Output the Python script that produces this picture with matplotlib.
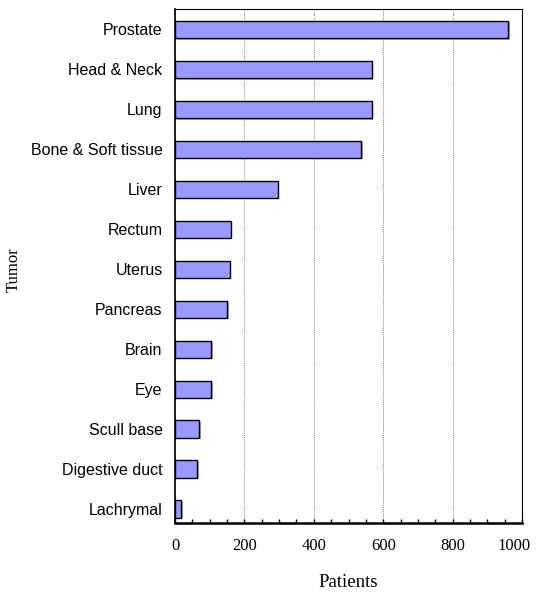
import matplotlib
matplotlib.use("Agg")
import matplotlib.pyplot as plt
import matplotlib.patheffects as pe
import matplotlib.transforms as mtransforms
from matplotlib.ticker import MultipleLocator

tumors = ["Prostate", "Head & Neck", "Lung", "Bone & Soft tissue", "Liver",
          "Rectum", "Uterus", "Pancreas", "Brain", "Eye", "Scull base",
          "Digestive duct", "Lachrymal"]
patients = [960, 567, 567, 536, 296, 160, 157, 151, 105, 105, 70, 64, 18]
x_ticks = [0, 200, 400, 600, 800, 1000]

fig = plt.figure(figsize=(5.37, 5.93), dpi=100)
ax = fig.add_axes([0.326, 0.118, 0.646, 0.867])

ypos = list(range(len(tumors)))
ax.barh(ypos, patients, height=0.43, color="#9999FF", edgecolor="black",
        linewidth=1.0, zorder=3,
        path_effects=[pe.SimplePatchShadow(offset=(1.2, -1.2), shadow_rgbFace="#999999", alpha=0.8),
                      pe.Normal()])

ax.set_ylim(12.35, -0.51)
ax.set_xlim(0, 1000)
ax.set_yticks(ypos)
ax.set_yticklabels(tumors, fontfamily="Liberation Sans", fontsize=11.5)
ax.tick_params(axis="y", length=0, pad=9)

ax.set_xticks(x_ticks)
ax.set_xticklabels([str(v) for v in x_ticks], fontfamily="Liberation Serif", fontsize=12)
ax.xaxis.set_minor_locator(MultipleLocator(50))
ax.tick_params(axis="x", which="both", direction="in", length=3, width=1, pad=11)

# last label sits a bit inward so it stays inside the figure
last = ax.get_xticklabels()[-1]
last.set_transform(last.get_transform() +
                   mtransforms.ScaledTranslation(-6 / 72, 0, fig.dpi_scale_trans))

ax.grid(axis="x", color="#888888", linestyle=(0, (1, 1)), linewidth=0.7, zorder=0)

for side in ["top", "right"]:
    ax.spines[side].set_linewidth(0.8)
ax.spines["left"].set_linewidth(1.2)
ax.spines["bottom"].set_linewidth(1.8)

ax.set_xlabel("Patients", fontfamily="Liberation Serif", fontsize=13.5, labelpad=14)
fig.text(0.026, 0.545, "Tumor", rotation=90, ha="center", va="center",
         fontfamily="Liberation Serif", fontsize=12)

fig.savefig("out.png", dpi=100)
